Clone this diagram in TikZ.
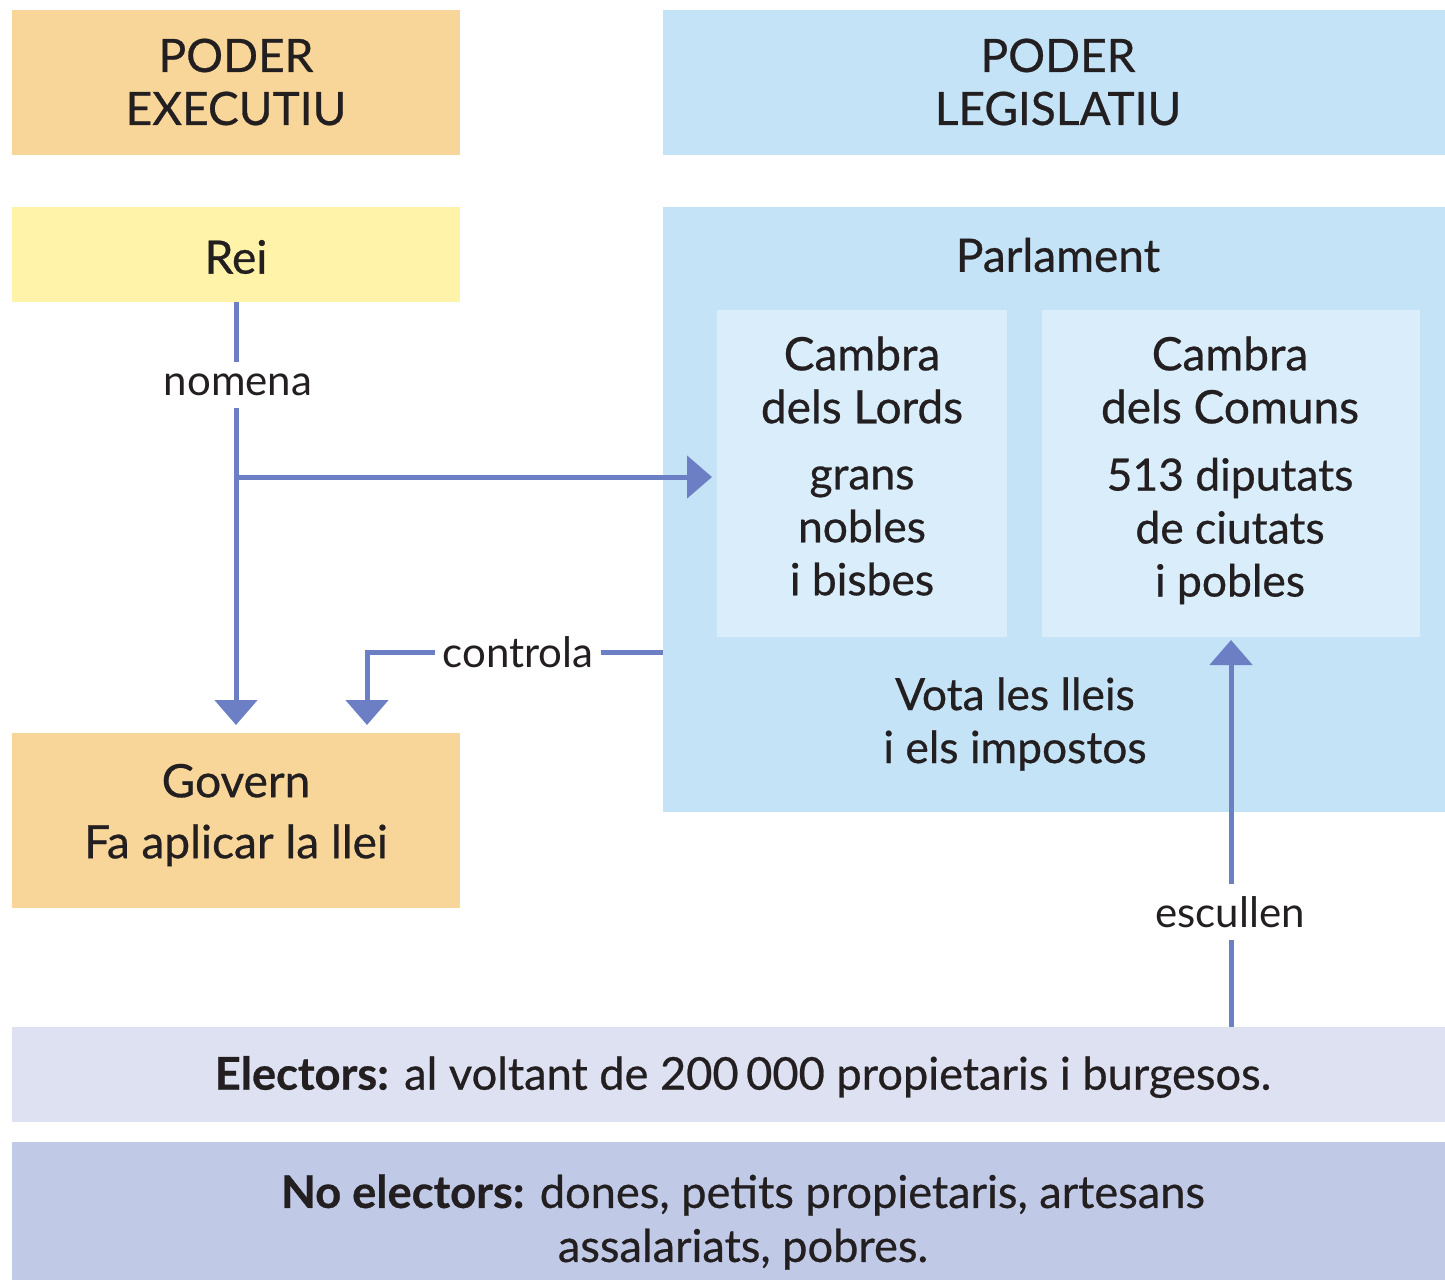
\documentclass[tikz,border=0pt]{standalone}
\usepackage{fontspec}
\setmainfont{Lato}
\newfontfamily\medium{Lato}[FakeBold=0.6]
\usetikzlibrary{arrows.meta}
\definecolor{orangebox}{HTML}{F8D69A}
\definecolor{yellowbox}{HTML}{FEF3A8}
\definecolor{bluebox}{HTML}{C4E3F6}
\definecolor{innerbox}{HTML}{D9EDFA}
\definecolor{electbox}{HTML}{DDE1F1}
\definecolor{noelectbox}{HTML}{C0C9E6}
\definecolor{arrowcol}{HTML}{6C7FC4}
\definecolor{txt}{HTML}{231F20}
\tikzset{
  box/.style={fill=#1, draw=none, anchor=north west, inner sep=0pt, outer sep=0pt},
  body/.style={text=txt, font=\medium\fontsize{22.2pt}{26.5pt}\selectfont, align=center, inner sep=0pt},
  band/.style={text=txt, font=\medium\fontsize{22.6pt}{27pt}\selectfont, align=center, inner sep=0pt},
  head/.style={text=txt, font=\medium\fontsize{23pt}{26.5pt}\selectfont, align=center, inner sep=0pt},
  lbl/.style={text=txt, font=\fontsize{21pt}{24pt}\selectfont, fill=white, inner xsep=4pt, inner ysep=6pt},
  arr/.style={draw=arrowcol, line width=2.5pt, -{Triangle[width=21pt,length=12.5pt]}},
}
\begin{document}
\begin{tikzpicture}[x=0.5pt, y=-0.5pt]
\useasboundingbox (0,0) rectangle (1445,1280);
% boxes
\node[box=orangebox, minimum width=224pt, minimum height=72.5pt] (exe) at (12,10) {};
\node[box=bluebox, minimum width=391pt, minimum height=72.5pt] (leg) at (663,10) {};
\node[box=yellowbox, minimum width=224pt, minimum height=47.5pt] (rei) at (12,207) {};
\node[box=bluebox, minimum width=391pt, minimum height=302.5pt] (parl) at (663,207) {};
\node[box=innerbox, minimum width=145pt, minimum height=163.5pt] (lords) at (717,310) {};
\node[box=innerbox, minimum width=189pt, minimum height=163.5pt] (comuns) at (1042,310) {};
\node[box=orangebox, minimum width=224pt, minimum height=87.5pt] (govern) at (12,733) {};
\node[box=electbox, minimum width=716.5pt, minimum height=47.5pt] (elect) at (12,1027) {};
\node[box=noelectbox, minimum width=716.5pt, minimum height=69pt] (noelect) at (12,1142) {};
% texts
\node[head] (exet) at (236,82) {PODER\\EXECUTIU};
\node[head] (legt) at (1058,82) {PODER\\LEGISLATIU};
\node[head] (reit) at (236,257) {Rei};
\node[head] (parlt) at (1058,255) {Parlament};
\node[head] (lordst) at (862,380) {Cambra\\dels Lords};
\node[body] (lordsd) at (862,531) {grans\\nobles\\i bisbes};
\node[head] (comunst) at (1230,380) {Cambra\\dels Comuns};
\node[body] (comunsd) at (1230,531) {513 diputats\\de ciutats\\i pobles};
\node[body] (vota) at (1015,724) {Vota les lleis\\i els impostos};
\node[head] (govt) at (236,815) {Govern\\[4pt]Fa aplicar la llei};
\node[band] (electt) at (743,1077) {\textbf{Electors:} al voltant de 200\,000 propietaris i burgesos.};
\node[band] (noelectt) at (743,1222) {\textbf{No electors:} dones, petits propietaris, artesans\\assalariats, pobres.};
% connectors
\coordinate (br) at (236,477);
\coordinate (ctl) at (367,652);
\draw[arr, shorten >=4pt] (rei.south) -- (rei.south |- govern.north);
\draw[arr, shorten >=2.5pt] (br) -- (br -| lords.west);
\draw[arr, shorten >=4pt] (parl.west |- ctl) -- (ctl) -- (ctl |- govern.north);
\draw[arr, shorten >=1.5pt] (comuns.south |- elect.north) -- (comuns.south);
% labels
\node[lbl] (nomena) at (238,385) {nomena};
\node[lbl] (controla) at (518,652) {controla};
\node[lbl] (escullen) at (1230,912) {escullen};
\end{tikzpicture}
\end{document}
